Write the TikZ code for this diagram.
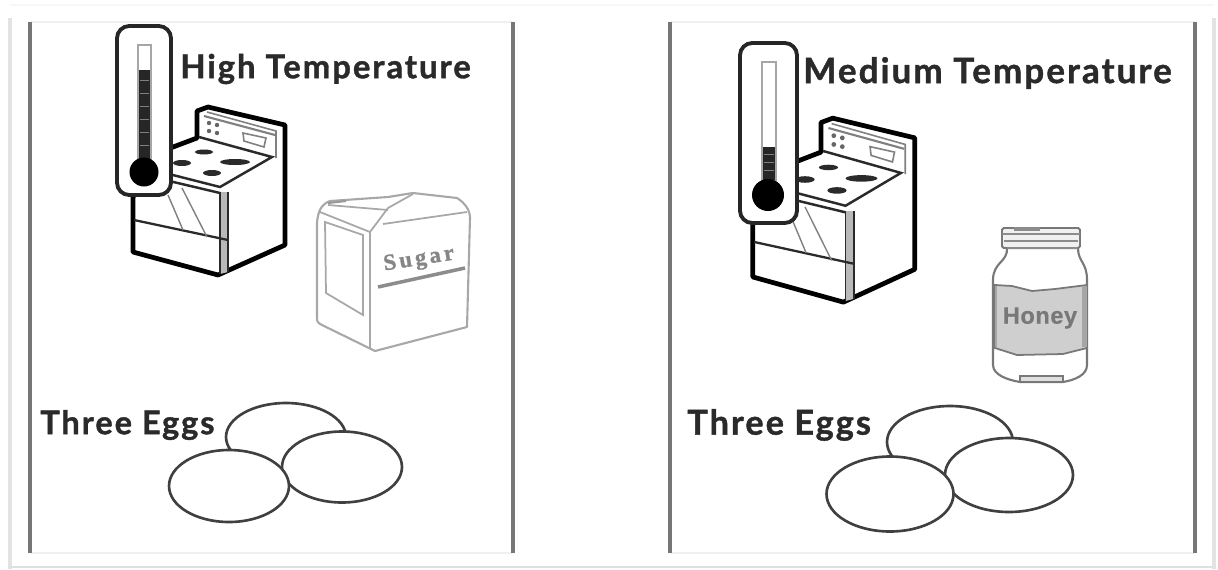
\documentclass[tikz,border=0pt]{standalone}
\usepackage{fontspec}
\setmainfont{Lato}
\newfontfamily\labelfont[LetterSpace=6,BoldFeatures={FakeBold=1.2}]{Lato}
\newfontfamily\boxfont[LetterSpace=14,BoldFeatures={FakeBold=1}]{Liberation Serif}
\newfontfamily\jarfont[LetterSpace=2,BoldFeatures={FakeBold=0.5}]{Liberation Sans}
\usetikzlibrary{shapes.geometric,calc}
\definecolor{inkgray}{HTML}{2A2A2A}
\definecolor{rulegray}{HTML}{777777}
\definecolor{boxgray}{HTML}{A8A8A8}
\definecolor{jargray}{HTML}{787878}

\tikzset{
    pics/stove/.style={code={
        % body
        \draw[stoveline, fill=white, line join=round] (133,197) -- (133,252) -- (218,275) -- (285,245) -- (285,125) -- (208,107) -- (197,111) -- (197,138) -- (165,150) -- cycle;
        % corner strip and drawer
        \fill[gray!55] (220,192) -- (228,192) -- (228,272) -- (220,274) -- cycle;
        \draw[thin line, line width=0.9pt] (220,192) -- (220,274) (228,192) -- (228,272);
        \draw[thin line, line width=1.3pt] (134,220) -- (228,240);
        \draw[thin line, gray, line width=0.8pt] (168,195) -- (183,230) (182,188) -- (207,237);
        % cooktop
        \draw[thin line, line width=1.4pt] (199,137) -- (272,157) -- (220,187) -- (165,173);
        \draw[thin line, line width=1.4pt] (165,180) -- (220,193);
        \draw[thin line, gray, line width=0.9pt] (207,112) -- (276,131) -- (276,158);
        \draw[thin line, gray, line width=1.2pt] (204,116) -- (275,135);
        \fill[inkgray] (204,152) ellipse (9 and 2.5) (182,163) ellipse (9 and 3) (235,162) ellipse (15 and 3) (212,173) ellipse (9 and 3);
        % controls
        \fill[gray!80!black] (209,123) circle (2.2) (217,125) circle (2.2) (209,131) circle (2.2) (217,133) circle (2.2);
        \draw[thin line, gray, line width=0.9pt] (243,133) -- (266,138) -- (264,147) -- (244,141) -- cycle;
    }},
    stoveline/.style={line width=2.7pt, draw=black},
    thin line/.style={line width=0.6pt, draw=inkgray}
}

\begin{document}
\begin{tikzpicture}[
    x=0.02cm, y=-0.02cm,
    panelrule/.style={line width=1.8pt, draw=rulegray},
    framerule/.style={line width=1pt, draw=gray!12},
    heading/.style={inner sep=0pt, text=inkgray},
    egg/.style={ellipse, draw=black!75, fill=white, line width=1.5pt, inner sep=0pt},
    thermobox/.style={rounded corners=7pt, line width=2.2pt, draw=black!85, fill=white},
    tube/.style={line width=0.8pt, draw=gray!70, fill=white}
]
\useasboundingbox (0,0) rectangle (1218,569);

% Outer frame
\draw[line width=2.2pt, draw=gray!22] (10,569) -- (10,18);
\draw[line width=1.6pt, draw=gray!25] (10,567) -- (1214,567);
\draw[line width=2.2pt, draw=gray!22] (1214,569) -- (1214,18);
\draw[line width=1pt, draw=gray!6] (10,5) -- (1214,5);

% Panels
\draw[framerule] (30,22) -- (513,22) (30,553) -- (513,553);
\draw[framerule] (670,22) -- (1195,22) (670,553) -- (1195,553);
\draw[panelrule] (30,22) -- (30,553);
\draw[panelrule] (513,22) -- (513,553);
\draw[panelrule] (670,22) -- (670,553);
\draw[panelrule] (1195,22) -- (1195,553);

% Stoves
\pic (stoveleft) at (0,0) {stove};
\pic[xscale=1.066, yscale=1.095] (stoveright) at (611,1) {stove};

% Thermometers
\draw[thermobox] (117,26) rectangle (171,195);
\draw[tube] (138,45) rectangle (151,165);
\fill[black!85] (139,70) rectangle (150,165);
\fill[black] (144,172) circle (14.5);
\foreach \y in {80,93,...,145} \draw[gray, line width=0.5pt] (140,\y) -- (149,\y);

\draw[thermobox] (740,43) rectangle (797,223);
\draw[tube] (762,62) rectangle (776,180);
\fill[black!85] (763,147) rectangle (775,180);
\fill[black] (768,195) circle (16);
\foreach \y in {154,162,170} \draw[gray, line width=0.5pt] (764,\y) -- (774,\y);

% Sugar box
\draw[boxgray, line width=1.2pt, line join=round, fill=white] (317,223) .. controls (318,210) and (322,204) .. (330,201) -- (388,197) -- (413,193) -- (457,198) .. controls (465,203) and (470,210) .. (470,218) -- (467,327) -- (375,351) -- (322,325) .. controls (318,323) and (317,322) .. (317,318) -- cycle;
\draw[boxgray, line width=1.4pt] (370,232) -- (370,349);
\draw[boxgray, line width=1pt] (370,232) -- (388,208) -- (413,194);
\draw[boxgray, line width=1pt] (328,205) -- (388,210) (320,212) -- (370,232) (383,224) -- (467,212);
\draw[gray!80, line width=1.2pt] (328,203) -- (346,201);
\draw[boxgray, line width=1pt] (325,222) -- (363,235) -- (363,315) -- (326,293) -- cycle;
\draw[gray!90, line width=2pt] (378,287) -- (465,268);
\node[inner sep=0pt, rotate=9, text=gray!95, font=\boxfont\bfseries\fontsize{13}{13}\selectfont] (sugarlabel) at (419,260) {Sugar};

% Honey jar
\draw[jargray, line width=1.2pt, line join=round, fill=white] (1007,248) .. controls (1008,262) and (993,262) .. (993,280) -- (993,365) .. controls (993,375) and (1008,380) .. (1020,382) -- (1063,382) .. controls (1075,380) and (1087,375) .. (1087,365) -- (1087,280) .. controls (1087,262) and (1078,262) .. (1078,248) -- cycle;
\draw[jargray, line width=1pt, fill=gray!38] (995,285) -- (1012,286) -- (1032,291) -- (1055,289) -- (1087,285) -- (1087,348) -- (1063,354) -- (1017,355) -- (995,348) -- cycle;
\fill[gray!70] (1082,286) rectangle (1087,347);
\fill[gray!70] (995,286) rectangle (997,347);
\draw[jargray, line width=1.1pt, fill=gray!12, rounded corners=1pt] (1002,228) rectangle (1080,248);
\draw[gray!90, line width=1.6pt] (1002,234) -- (1080,234) (1004,241) -- (1078,241) (1007,248) -- (1078,248);
\draw[gray!90, line width=2.2pt] (1014,229) -- (1040,229);
\draw[jargray, line width=0.9pt, fill=gray!25] (1020,376) -- (1063,376) -- (1063,382) -- (1020,382) -- cycle;
\node[inner sep=0pt, text=jargray, font=\jarfont\bfseries\fontsize{13.5}{13.5}\selectfont] (honeylabel) at (1040,318) {Honey};

% Eggs
\node[egg, minimum width=2.4cm, minimum height=1.36cm] (eggbackleft) at (286,437) {};
\node[egg, minimum width=2.4cm, minimum height=1.42cm] (eggrightleft) at (342,467) {};
\node[egg, minimum width=2.4cm, minimum height=1.44cm] (eggfrontleft) at (229,486) {};

\node[egg, minimum width=2.52cm, minimum height=1.44cm] (eggbackright) at (950,442) {};
\node[egg, minimum width=2.56cm, minimum height=1.48cm] (eggrightright) at (1009,475) {};
\node[egg, minimum width=2.54cm, minimum height=1.5cm] (eggfrontright) at (890,494) {};

% Labels
\node[heading, anchor=west, font=\labelfont\bfseries\fontsize{18.7}{18.7}\selectfont] (hightemp) at (180,69) {High Temperature};
\node[heading, anchor=west, font=\labelfont\bfseries\fontsize{19.9}{19.9}\selectfont] (mediumtemp) at (803,73) {Medium Temperature};
\node[heading, anchor=west, font=\labelfont\bfseries\fontsize{18.5}{18.5}\selectfont] (eggsleft) at (40,425) {Three Eggs};
\node[heading, anchor=west, font=\labelfont\bfseries\fontsize{19.5}{19.5}\selectfont] (eggsright) at (687,425) {Three Eggs};

\end{tikzpicture}
\end{document}
